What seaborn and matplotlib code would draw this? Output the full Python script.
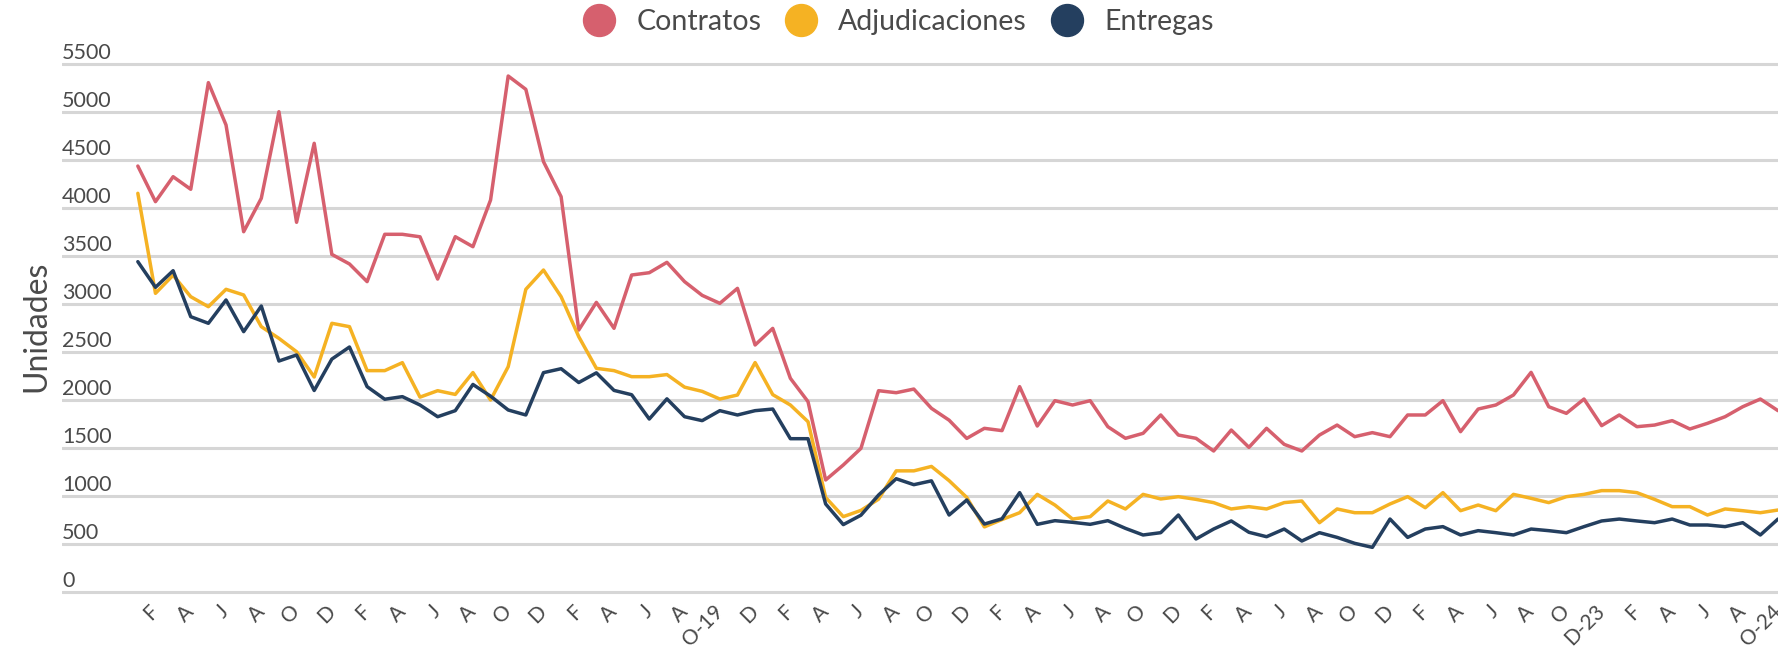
import numpy as np
import pandas as pd
import matplotlib
matplotlib.use("Agg")
import matplotlib.pyplot as plt
import matplotlib.transforms as mtransforms
from matplotlib.lines import Line2D
import seaborn as sns

# monthly series, Jan 2017 - Oct 2024
contratos = [4437, 4066, 4326, 4195, 5306, 4865, 3753, 4101, 5003, 3851, 4674, 3517,
             3417, 3233, 3726, 3726, 3700, 3260, 3701, 3597, 4083, 5375, 5236, 4483,
             4118, 2729, 3017, 2747, 3302, 3326, 3434, 3233, 3090, 3007, 3163, 2573,
             2746, 2226, 1983, 1167, 1323, 1496, 2097, 2076, 2114, 1913, 1790, 1600,
             1705, 1681, 2139, 1729, 1993, 1948, 1993, 1722, 1601, 1653, 1844, 1635,
             1601, 1469, 1687, 1507, 1705, 1538, 1469, 1635, 1739, 1618, 1660, 1618,
             1844, 1844, 1993, 1670, 1906, 1948, 2052, 2288, 1930, 1861, 2010, 1733,
             1844, 1722, 1739, 1785, 1698, 1757, 1826, 1930, 2010, 1889]
adjudicaciones = [4153, 3111, 3300, 3076, 2972, 3153, 3094, 2764, 2642, 2503, 2240, 2799,
                  2764, 2306, 2306, 2389, 2030, 2097, 2058, 2286, 2000, 2347, 3153, 3354,
                  3076, 2660, 2330, 2306, 2243, 2243, 2265, 2134, 2090, 2010, 2052, 2390,
                  2056, 1948, 1774, 985, 785, 850, 967, 1262, 1262, 1308, 1160, 985,
                  678, 755, 826, 1017, 906, 760, 785, 948, 865, 1017, 969, 993,
                  965, 931, 865, 889, 865, 931, 948, 722, 865, 826, 826, 917,
                  993, 878, 1035, 847, 906, 847, 1017, 976, 931, 993, 1017, 1056,
                  1056, 1035, 965, 889, 889, 802, 865, 847, 826, 854]
entregas = [3441, 3174, 3347, 2868, 2799, 3042, 2712, 2979, 2406, 2469, 2099, 2426,
            2552, 2139, 2008, 2035, 1948, 1826, 1889, 2162, 2040, 1896, 1844, 2285,
            2326, 2182, 2283, 2100, 2055, 1802, 2012, 1826, 1785, 1889, 1844, 1889,
            1906, 1597, 1597, 917, 702, 800, 1010, 1180, 1118, 1158, 802, 958,
            708, 763, 1035, 705, 743, 726, 705, 743, 663, 594, 618, 802,
            552, 656, 740, 622, 576, 656, 531, 618, 569, 507, 465, 760,
            569, 656, 681, 594, 639, 618, 594, 656, 639, 618, 681, 740,
            760, 740, 722, 760, 698, 698, 681, 722, 594, 760]

# one label every two months (Feb, Apr, ...)
xlabels = ["F", "A", "J", "A", "O", "D",
           "F", "A", "J", "A", "O", "D",
           "F", "A", "J", "A", "O-19", "D",
           "F", "A", "J", "A", "O", "D",
           "F", "A", "J", "A", "O", "D",
           "F", "A", "J", "A", "O", "D",
           "F", "A", "J", "A", "O", "D-23",
           "F", "A", "J", "A", "O-24"]

series = ["Contratos", "Adjudicaciones", "Entregas"]
colores = ["#D6606E", "#F5B223", "#243F5F"]

n = len(contratos)
df = pd.DataFrame({
    "mes": np.tile(np.arange(n), 3),
    "valor": contratos + adjudicaciones + entregas,
    "serie": np.repeat(series, n),
})

sns.set_theme(style="white")
plt.rcParams["font.family"] = ["Lato", "DejaVu Sans"]
gris = "#4a4a4a"

fig = plt.figure(figsize=(17.78, 6.49), dpi=100)
ax = fig.add_axes([62 / 1778, 0.0819, 1 - 62 / 1778, 0.8254])

sns.lineplot(data=df, x="mes", y="valor", hue="serie", palette=colores,
             linewidth=2.5, legend=False, ax=ax)

ax.set_xlim(-4.3, 92.9)
ax.set_ylim(-40, 5540)
ax.set_yticks(np.arange(0, 5501, 500))
ax.set_xticks(np.arange(n)[1::2])
ax.set_xticklabels(xlabels, rotation=45, ha="right", rotation_mode="anchor",
                   va="center", fontsize=15, color=gris)

ax.yaxis.grid(True, color="#d6d6d6", linewidth=2.2)
ax.xaxis.grid(False)
ax.set_axisbelow(True)
for s in ax.spines.values():
    s.set_visible(False)

ax.tick_params(axis="y", length=0, pad=0, labelsize=15.5, labelcolor=gris)
ax.tick_params(axis="x", length=0, pad=9)
offset = mtransforms.ScaledTranslation(0, 5 / 100, fig.dpi_scale_trans)
for lab in ax.get_yticklabels():
    lab.set_ha("left")
    lab.set_va("baseline")
    lab.set_transform(lab.get_transform() + offset)

ax.set_xlabel("")
ax.set_ylabel("Unidades", fontsize=23, color=gris)
ax.yaxis.set_label_coords(-0.006, 0.504)

handles = [Line2D([], [], linestyle="", marker="o", markersize=23,
                  markerfacecolor=c, markeredgecolor=c) for c in colores]
fig.legend(handles, series, loc="center", bbox_to_anchor=(0.505, 0.966), ncol=3,
           frameon=False, fontsize=20.5, labelcolor=gris, handletextpad=0.7,
           columnspacing=0.8, handlelength=1.2)

fig.savefig("out.png", dpi=100)
